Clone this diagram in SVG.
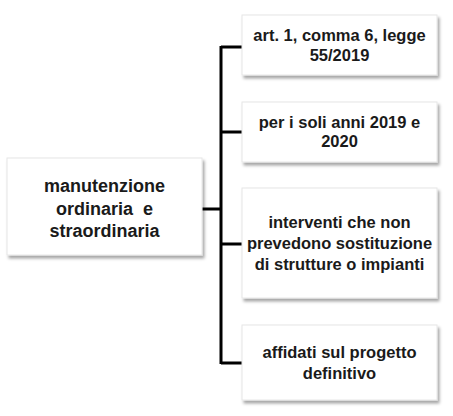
<svg xmlns="http://www.w3.org/2000/svg" width="453" height="416" viewBox="0 0 453 416">
<defs>
<filter id="sh" x="-10%" y="-10%" width="125%" height="130%">
<feDropShadow dx="2" dy="3" stdDeviation="1.5" flood-color="#000" flood-opacity="0.35"/>
</filter>
</defs>
<style>
.box{fill:#fff;stroke:#e6e6e6;stroke-width:1;filter:url(#sh)}
.t{font-family:"Liberation Sans",Arial,sans-serif;font-weight:bold;fill:#1a1a1a;text-anchor:middle}
.r{font-size:16.5px}
.l{font-size:18px}
.c{stroke:#000;stroke-width:3;fill:none}
</style>
<rect width="453" height="416" fill="#fff"/>
<g id="connectors">
<path class="c" d="M202,209 H221 M221,46 V364 M221,47 H242 M221,132 H242 M221,244 H242 M221,363 H242"/>
</g>
<g id="root">
<rect class="box" x="7" y="158" width="195" height="97"/>
<text class="t l" x="104.5" y="192">manutenzione</text>
<text class="t l" x="104.5" y="214.5" xml:space="preserve" style="white-space:pre">ordinaria  e</text>
<text class="t l" x="104.5" y="237">straordinaria</text>
</g>
<g id="n1">
<rect class="box" x="242" y="15" width="195" height="60"/>
<text class="t r" x="339.5" y="41">art. 1, comma 6, legge</text>
<text class="t r" x="339.5" y="61">55/2019</text>
</g>
<g id="n2">
<rect class="box" x="242" y="102" width="195" height="60"/>
<text class="t r" x="339.5" y="128">per i soli anni 2019 e</text>
<text class="t r" x="339.5" y="147">2020</text>
</g>
<g id="n3">
<rect class="box" x="242" y="188" width="195" height="110"/>
<text class="t r" x="339.5" y="228">interventi che non</text>
<text class="t r" x="339.5" y="249">prevedono sostituzione</text>
<text class="t r" x="339.5" y="270">di strutture o impianti</text>
</g>
<g id="n4">
<rect class="box" x="242" y="325" width="195" height="75"/>
<text class="t r" x="339.5" y="358">affidati sul progetto</text>
<text class="t r" x="339.5" y="379">definitivo</text>
</g>
</svg>
